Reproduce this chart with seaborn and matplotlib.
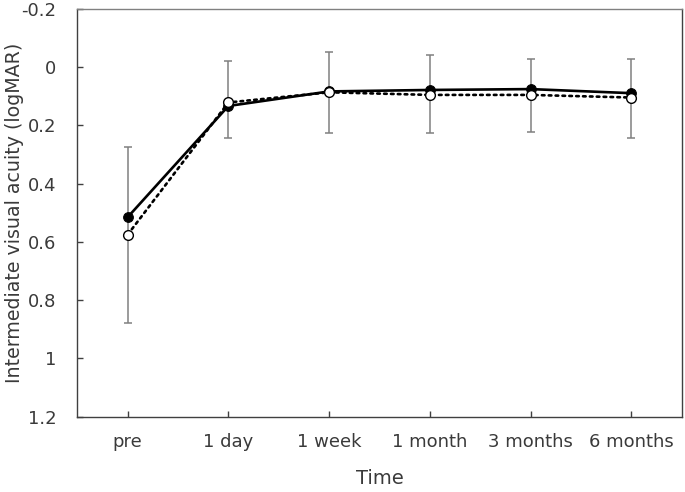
#Visual acuity over time chart

#import packages
import numpy as np
import pandas as pd
import matplotlib
matplotlib.use("Agg")
import matplotlib.pyplot as plt
import seaborn as sns

#data
times = ["pre", "1 day", "1 week", "1 month", "3 months", "6 months"]
filled_vals = [0.515, 0.133, 0.083, 0.078, 0.075, 0.089]
open_vals = [0.575, 0.121, 0.086, 0.095, 0.095, 0.104]
err_top = [0.274, -0.023, -0.054, -0.042, -0.028, -0.028]
err_bottom = [0.878, 0.242, 0.226, 0.226, 0.221, 0.244]
y_ticks = [-0.2, 0, 0.2, 0.4, 0.6, 0.8, 1.0, 1.2]

df = pd.DataFrame({"time": times, "filled": filled_vals, "open": open_vals})

sns.set_theme(style="ticks")
plt.rcParams["font.family"] = ["DejaVu Sans"]

fig = plt.figure(figsize=(6.85, 4.92), dpi=100)
ax = fig.add_axes([0.1128, 0.153, 0.8824, 0.8287])

#error bars (around the open series)
xpos = np.arange(len(times))
lower = np.array(open_vals) - np.array(err_top)
upper = np.array(err_bottom) - np.array(open_vals)
ax.errorbar(xpos, open_vals, yerr=[lower, upper], fmt="none",
            ecolor="#808080", elinewidth=1.1, capsize=2.6, capthick=1.1, zorder=1)

# the two series
sns.lineplot(data=df, x="time", y="filled", sort=False, ax=ax, color="black",
             linewidth=1.9, marker="o", markersize=7, markerfacecolor="black",
             markeredgecolor="black", zorder=3)
sns.lineplot(data=df, x="time", y="open", sort=False, ax=ax, color="black",
             linewidth=1.9, linestyle=(0, (1, 1.6)), dash_capstyle="round",
             marker="o", markersize=7, markerfacecolor="white",
             markeredgecolor="black", markeredgewidth=1.0, zorder=4)

ax.set_xlim(-0.5, len(times) - 0.5)
ax.set_ylim(1.2, -0.2)
ax.set_yticks(y_ticks)
ax.set_yticklabels([f"{v:g}" for v in y_ticks])

for side in ["top", "right", "left", "bottom"]:
    ax.spines[side].set_visible(True)
    ax.spines[side].set_linewidth(1.0)
    ax.spines[side].set_color("#404040")
ax.spines["top"].set_color("#808080")

ax.tick_params(axis="both", direction="in", length=4, width=1, color="#404040",
               labelsize=13, labelcolor="#3a3a3a")
ax.tick_params(axis="y", pad=15)
ax.tick_params(axis="x", pad=12)

ax.set_xlabel("Time", fontsize=14, color="#3a3a3a")
ax.set_ylabel("Intermediate visual acuity (logMAR)", fontsize=13.7,
              color="#3a3a3a")
ax.xaxis.set_label_coords(0.5, -0.128)
ax.yaxis.set_label_coords(-0.088, 0.5)

plt.savefig("out.png", dpi=100)
